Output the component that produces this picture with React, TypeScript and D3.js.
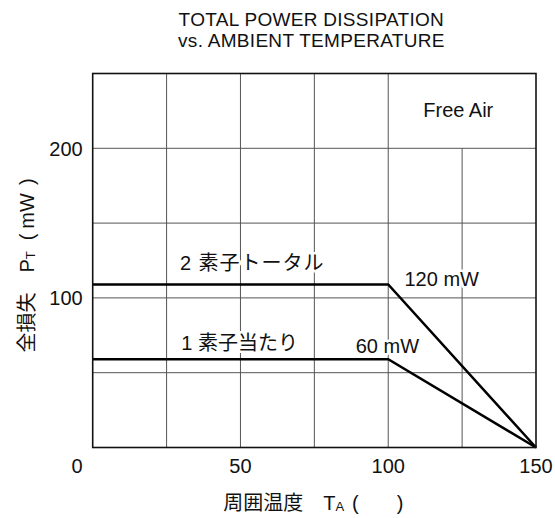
import * as d3 from "d3";

const WIDTH = 555;
const HEIGHT = 518;
const PLOT = { left: 92.7, right: 536, top: 73.5, bottom: 447.5 };

const FONT = '"Liberation Sans", Arial, "Noto Sans CJK JP", sans-serif';

// data
const tempGrid = [25, 50, 75, 100];
const tempGridShort = [125]; // only runs below 200 mW (Free Air box)
const powerGrid = [50, 100, 150, 200];
const xTickLabels = [50, 100, 150];
const yTickLabels = [100, 200];

type Pt = { t: number; p: number };
const totalSeries: Pt[] = [
  { t: 0, p: 109 },
  { t: 100, p: 109 },
  { t: 150, p: 0 },
];
const singleSeries: Pt[] = [
  { t: 0, p: 59 },
  { t: 100, p: 59 },
  { t: 150, p: 0 },
];

const annotations = [
  { text: "2 素子トータル", t: 29.5, p: 118.6, anchor: "start", ls: 1 },
  { text: "1 素子当たり", t: 30, p: 65, anchor: "start", ls: 0 },
  { text: "120 mW", t: 105.5, p: 108, anchor: "start", ls: 0 },
  { text: "60 mW", t: 89, p: 63, anchor: "start", ls: 0 },
  { text: "Free Air", t: 123.7, p: 220.7, anchor: "middle", ls: 0 },
];

const titleLines = ["TOTAL POWER DISSIPATION", "vs. AMBIENT TEMPERATURE"];

export default function App() {
  const x = d3.scaleLinear().domain([0, 150]).range([PLOT.left, PLOT.right]);
  const y = d3.scaleLinear().domain([0, 250]).range([PLOT.bottom, PLOT.top]);

  const line = d3
    .line<Pt>()
    .x((d) => x(d.t))
    .y((d) => y(d.p));

  const cx = (PLOT.left + PLOT.right) / 2;
  const cy = (PLOT.top + PLOT.bottom) / 2;

  return (
    <div style={{ position: "absolute", left: 0, top: 0 }}>
      <svg width={WIDTH} height={HEIGHT} fontFamily={FONT}>
        <rect width={WIDTH} height={HEIGHT} fill="#fff" />

        {/* title */}
        {titleLines.map((l, i) => (
          <text
            key={l}
            x={cx - 3}
            y={25.5 + i * 21}
            textAnchor="middle"
            fontSize={19}
            letterSpacing={0.3}
            fill="#111"
          >
            {l}
          </text>
        ))}

        {/* grid */}
        <g stroke="#555" strokeWidth={1}>
          {tempGrid.map((t) => (
            <line key={t} x1={x(t)} x2={x(t)} y1={y(250)} y2={y(0)} />
          ))}
          {tempGridShort.map((t) => (
            <line key={t} x1={x(t)} x2={x(t)} y1={y(200)} y2={y(0)} />
          ))}
          {powerGrid.map((p) => (
            <line key={p} x1={x(0)} x2={x(150)} y1={y(p)} y2={y(p)} />
          ))}
        </g>

        {/* series */}
        <path d={line(totalSeries) ?? ""} fill="none" stroke="#000" strokeWidth={2.5} />
        <path d={line(singleSeries) ?? ""} fill="none" stroke="#000" strokeWidth={2.5} />

        {/* annotations */}
        {annotations.map((a) => (
          <text
            key={a.text}
            x={x(a.t)}
            y={y(a.p)}
            textAnchor={a.anchor}
            fontSize={20}
            letterSpacing={a.ls}
            fill="#111"
            stroke="#fff"
            strokeWidth={5}
            paintOrder="stroke"
            strokeLinejoin="round"
          >
            {a.text}
          </text>
        ))}

        {/* frame */}
        <rect
          x={PLOT.left}
          y={PLOT.top}
          width={PLOT.right - PLOT.left}
          height={PLOT.bottom - PLOT.top}
          fill="none"
          stroke="#111"
          strokeWidth={1.6}
        />

        {/* tick labels */}
        <g fontSize={20} fill="#111">
          {xTickLabels.map((t) => (
            <text key={t} x={x(t)} y={PLOT.bottom + 25} textAnchor="middle">
              {t}
            </text>
          ))}
          <text x={PLOT.left - 10} y={PLOT.bottom + 25} textAnchor="end">
            0
          </text>
          {yTickLabels.map((p) => (
            <text key={p} x={PLOT.left - 10} y={y(p)} dy="0.36em" textAnchor="end">
              {p}
            </text>
          ))}
        </g>

        {/* axis titles */}
        <text x={cx - 1} y={510} textAnchor="middle" fontSize={20} fill="#111">
          周囲温度　T
          <tspan fontSize={13} dy={1}>A</tspan>
          <tspan dy={-1} dx={8}>(</tspan>
          <tspan dx={38}>)</tspan>
        </text>
        <text
          transform={`translate(34, ${cy + 5}) rotate(-90)`}
          textAnchor="middle"
          fontSize={20}
          fill="#111"
        >
          全損失　P
          <tspan fontSize={13} dy={1}>T</tspan>
          <tspan dy={-1} dx={11}>(</tspan>
          <tspan dx={5}>mW</tspan>
          <tspan dx={8}>)</tspan>
        </text>
      </svg>
    </div>
  );
}
